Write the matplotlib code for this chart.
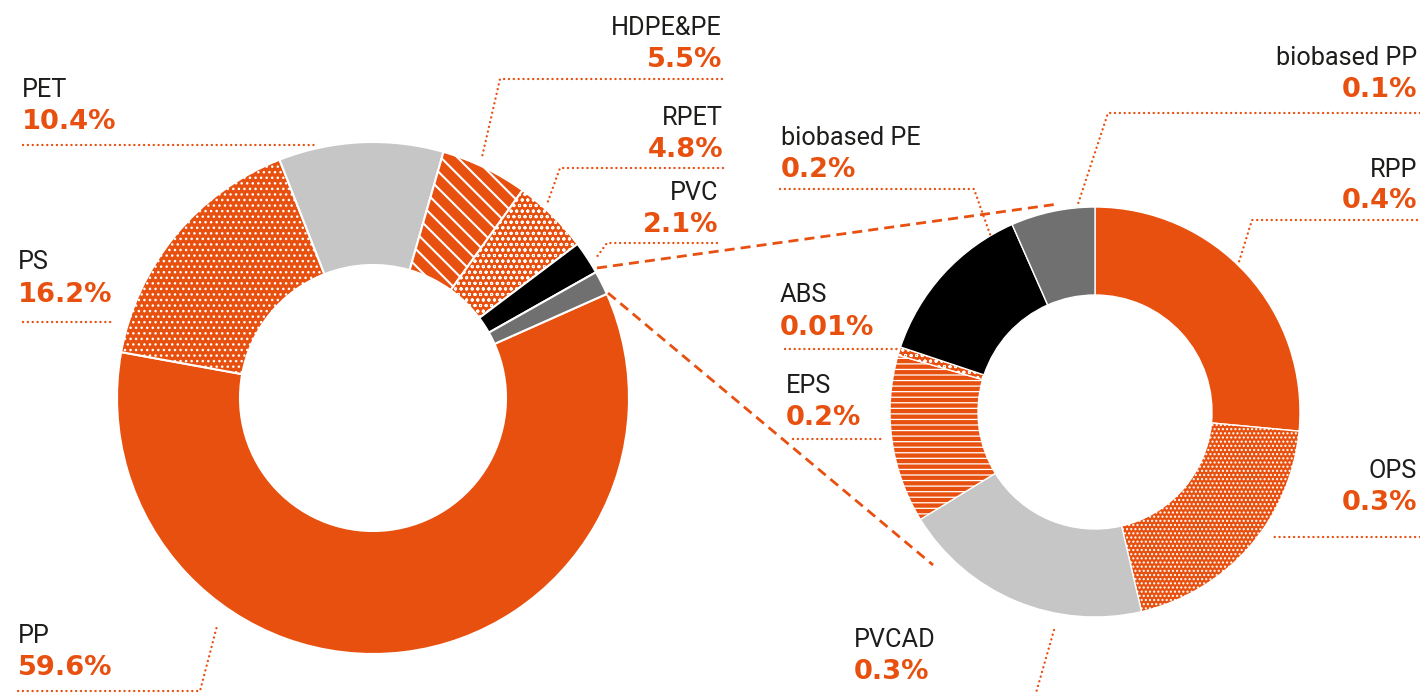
import matplotlib
matplotlib.use("Agg")
import matplotlib.pyplot as plt

# ---------------- data ----------------
main_labels = ["PP", "PS", "PET", "HDPE&PE", "RPET", "PVC"]
main_values = [59.6, 16.2, 10.4, 5.5, 4.8, 2.1]

sub_labels = ["RPP", "OPS", "PVCAD", "EPS", "ABS", "biobased PE", "biobased PP"]
sub_values = [0.4, 0.3, 0.3, 0.2, 0.01, 0.2, 0.1]

# ---------------- style ----------------
ORANGE = "#E8500F"
LGRAY = "#C6C6C6"
DGRAY = "#707070"
BLACK = "#000000"
TXT = "#1d1d1b"

main_colors = [ORANGE, ORANGE, LGRAY, ORANGE, ORANGE, BLACK, DGRAY]
main_hatches = [None, "...", None, "\\\\", "ooo", None, None]
main_hlw = [1, 1, 1, 1.5, 0.7, 1, 1]
sub_colors = [ORANGE, ORANGE, LGRAY, ORANGE, ORANGE, BLACK, DGRAY]
sub_hatches = [None, "....", None, "---", "ooo", None, None]
sub_hlw = [1, 1, 1, 0.9, 0.7, 1, 1]

plt.rcParams["hatch.linewidth"] = 1.0

W, H = 1420, 693
fig = plt.figure(figsize=(W / 100, H / 100), dpi=100)
ax = fig.add_axes([0, 0, 1, 1])


def Y(y):
    return H - y


# left donut (the last slice is the share broken out on the right)
left_vals = main_values + [sum(sub_values)]
wl, _ = ax.pie(left_vals, radius=256, center=(373, Y(398)), startangle=24,
               counterclock=False, colors=main_colors, hatch=main_hatches,
               wedgeprops=dict(width=256 - 133, edgecolor="white", linewidth=1.5))

# right donut
wr, _ = ax.pie(sub_values, radius=205, center=(1095, Y(412)), startangle=90,
               counterclock=False, colors=sub_colors, hatch=sub_hatches,
               wedgeprops=dict(width=205 - 117, edgecolor="white", linewidth=1.0))

for wedges, lws in ((wl, main_hlw), (wr, sub_hlw)):
    for w, lw in zip(wedges, lws):
        if hasattr(w, "set_hatch_linewidth"):
            w.set_hatch_linewidth(lw)
        else:
            w._hatch_linewidth = lw

ax.set_xlim(0, W)
ax.set_ylim(0, H)
ax.set_aspect("auto")
ax.axis("off")

# connecting dashed lines
for (x0, y0), (x1, y1) in [((597, 268), (1058, 204)), ((608, 293), (933, 565))]:
    ax.plot([x0, x1], [Y(y0), Y(y1)], color=ORANGE, lw=2.0,
            dashes=(3.6, 2.2), solid_capstyle="butt", zorder=5)

# label layout: (x, align, name baseline, pct baseline, leader points)
layout = {
    "PP": (18, "left", 643, 675, [(18, 691), (200, 691), (217, 626)]),
    "PS": (18, "left", 269, 302, [(23, 322), (113, 322)]),
    "PET": (22, "left", 97, 129, [(23, 145), (315, 145)]),
    "HDPE&PE": (722, "right", 35, 67, [(722, 79), (500, 79), (482, 157)]),
    "RPET": (723, "right", 125, 157, [(723, 168), (560, 168), (547, 204)]),
    "PVC": (718, "right", 200, 232, [(717, 243), (607, 243), (596, 258)]),
    "biobased PE": (781, "left", 145, 177, [(780, 189), (974, 189), (991, 237)]),
    "ABS": (780, "left", 302, 335, [(785, 349), (898, 349)]),
    "EPS": (786, "left", 393, 425, [(793, 439), (882, 439)]),
    "biobased PP": (1417, "right", 65, 97, [(1420, 113), (1108, 113), (1077, 207)]),
    "RPP": (1417, "right", 177, 208, [(1417, 220), (1252, 220), (1238, 265)]),
    "OPS": (1417, "right", 478, 510, [(1420, 537), (1270, 537)]),
    "PVCAD": (854, "left", 647, 679, [(1054, 630), (1034, 700)]),
}

all_labels = main_labels + sub_labels
all_values = main_values + sub_values
for lab, val in zip(all_labels, all_values):
    x, ha, yn, yp, pts = layout[lab]
    ax.text(x, Y(yn), lab, ha=ha, va="baseline", fontsize=18.2,
            family="Roboto", fontweight="normal", color=TXT)
    ax.text(x, Y(yp), f"{val:g}%", ha=ha, va="baseline", fontsize=19.6,
            family="DejaVu Sans", fontweight="bold", color=ORANGE)
    xs = [p[0] for p in pts]
    ys = [Y(p[1]) for p in pts]
    ax.plot(xs, ys, color=ORANGE, lw=1.7, linestyle=(0, (0.05, 2.0)),
            dash_capstyle="round", solid_capstyle="round", zorder=6)

fig.savefig("out.png", dpi=100)
